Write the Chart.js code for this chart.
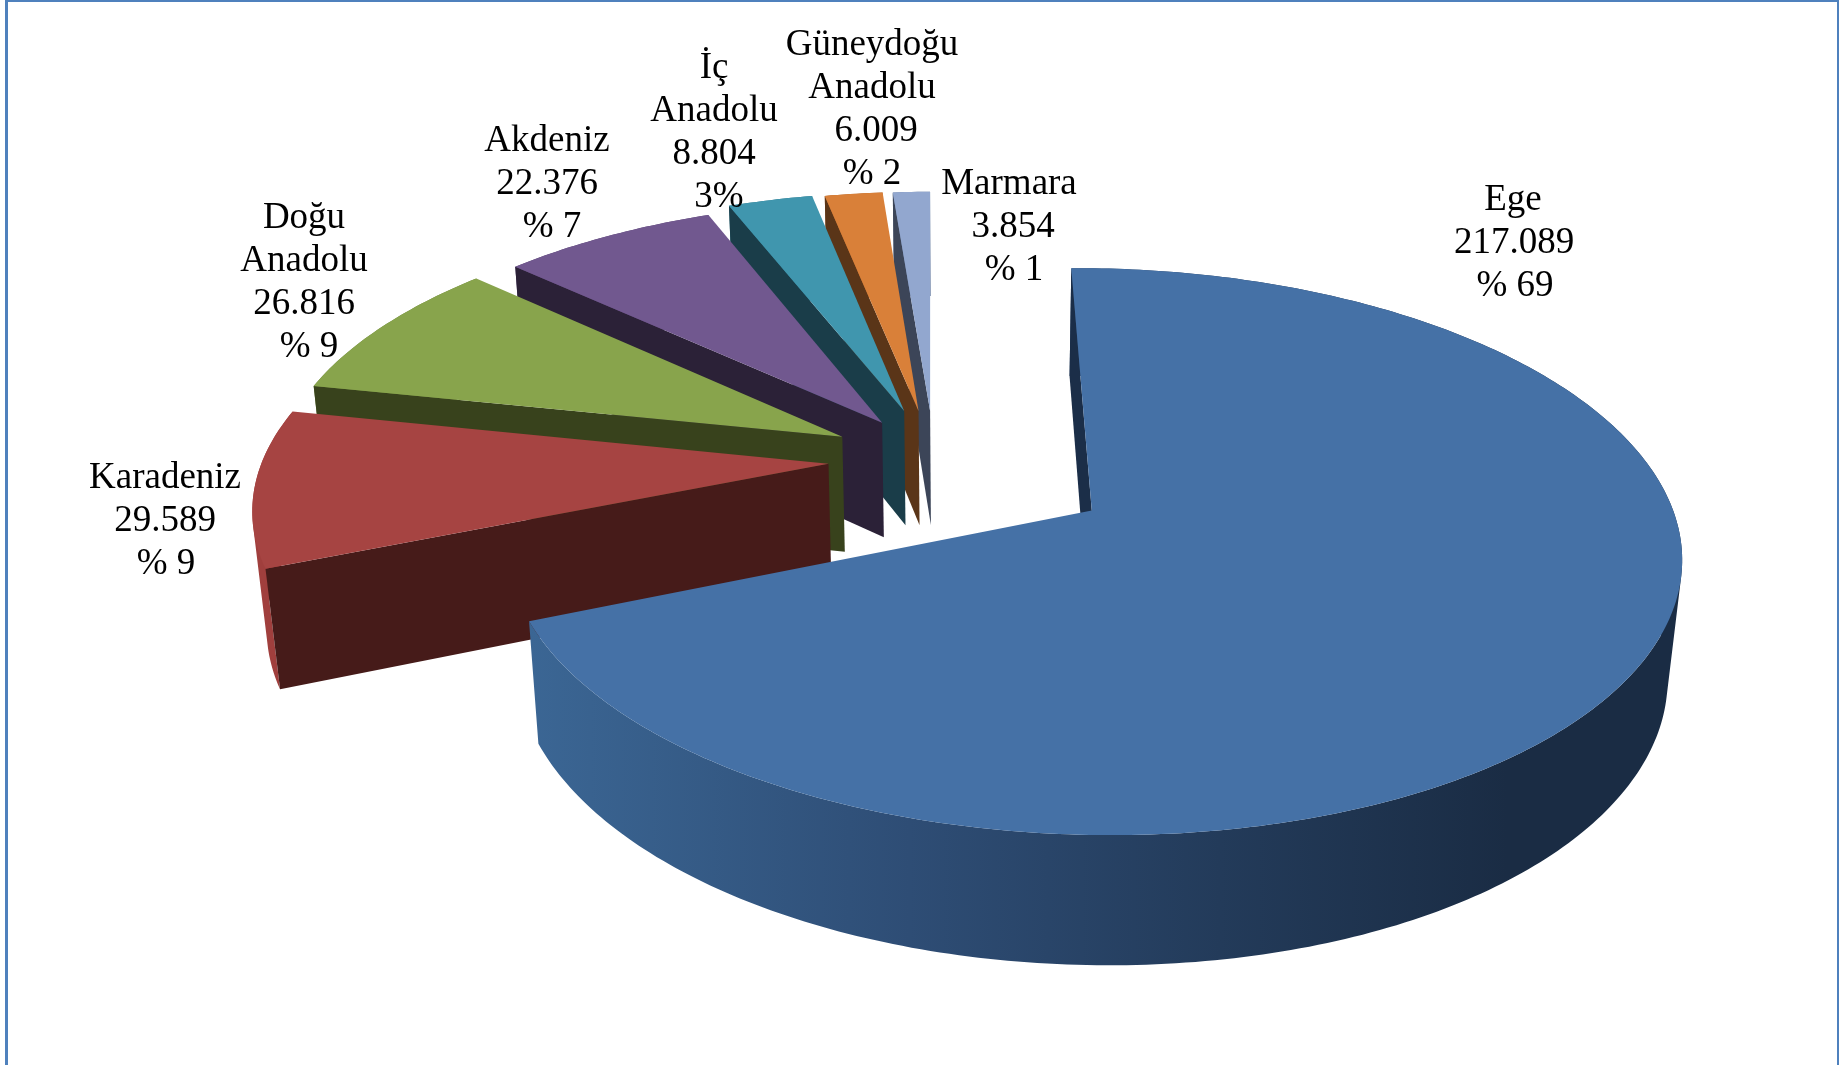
<!DOCTYPE html>
<html lang="tr">
<head>
<meta charset="utf-8">
<title>Bölgelere göre dağılım</title>
<style>
  html, body { margin: 0; padding: 0; background: #fff; overflow: hidden; }
  #frame { position: absolute; left: 5px; top: 0; width: 1829px; height: 1065px;
           border-left: 3px solid #4f81bd; border-right: 3px solid #4f81bd; border-top: 2px solid #4f81bd;
           box-sizing: content-box; pointer-events: none; }
  #grafik { position: absolute; left: 0; top: 0; }
</style>
<script src="https://cdn.jsdelivr.net/npm/chart.js@4"></script>
</head>
<body>
<canvas id="grafik" width="1839" height="1065"></canvas>
<div id="frame"></div>
<script>
const categories = ['Ege', 'Karadeniz', 'Doğu Anadolu', 'Akdeniz', 'İç Anadolu', 'Güneydoğu Anadolu', 'Marmara'];
const values = [217089, 29589, 26816, 22376, 8804, 6009, 3854];
const valueLabels = ['217.089', '29.589', '26.816', '22.376', '8.804', '6.009', '3.854'];
const percentLabels = ['% 69', '% 9', '% 9', '% 7', '3%', '% 2', '% 1'];

// colours
const topColors = ['#4571a6', '#a64442', '#88a44c', '#71588f', '#4096ae', '#d98039', '#92a7cf'];
const wallColors = ['#1b2e48', '#461b19', '#38421c', '#2b2137', '#1a3d49', '#5a3518', '#3c4558'];
const rimColors = ['#2f4d74', '#a03f3d', '#6d8340', '#5a4672', '#337a8c', '#ad6630', '#7486a6'];

// how far each slice is pulled out, in pie radii
const offsetU = [0.206, -0.253, -0.232, -0.162, -0.123, -0.097, -0.076];
const offsetV = [0.138, -0.035, -0.139, -0.194, -0.240, -0.240, -0.240];

// centre of the first text line of each label, and the line height
const labelX = [1513, 165, 304, 547, 714, 872, 1009];
const labelY = [200, 478, 218, 141, 68, 45, 184];
const valueShift = [1, 0, 0, 0, 0, 4, 4];
const percentShift = [2, 1, 5, 5, 5, 0, 5];
const lineHeight = 43;

// view settings for the tilted pie
const tilt = 0.468;
const perspective = 0.142;
const depth = 119;
const depthShrink = 0.02;

function project(el, u, v, h) {
    const w = 1 - perspective * v + depthShrink * h;
    return [
        el.x + el.outerRadius * u / w,
        el.y + (el.outerRadius * tilt * v + depth * h) / w
    ];
}

function arcPoints(el, i, h) {
    const pts = [];
    const steps = Math.max(6, Math.ceil((el.endAngle - el.startAngle) / 0.015));
    for (let s = 0; s <= steps; s++) {
        const a = el.startAngle + (el.endAngle - el.startAngle) * s / steps;
        pts.push(project(el, offsetU[i] + Math.cos(a), offsetV[i] + Math.sin(a), h));
    }
    return pts;
}

function fillPoly(ctx, pts, fill) {
    ctx.beginPath();
    pts.forEach((p, n) => n ? ctx.lineTo(p[0], p[1]) : ctx.moveTo(p[0], p[1]));
    ctx.closePath();
    ctx.fillStyle = fill;
    ctx.fill();
}

// the outer wall is made of small quads, all wound the same way so that
// the fold at the silhouette does not cancel out in the fill
function fillRim(ctx, top, bottom, fill) {
    ctx.beginPath();
    for (let s = 0; s < top.length - 1; s++) {
        let q = [top[s], top[s + 1], bottom[s + 1], bottom[s]];
        let area = 0;
        q.forEach((p, n) => {
            const r = q[(n + 1) % 4];
            area += p[0] * r[1] - r[0] * p[1];
        });
        if (area < 0) q = q.reverse();
        q.forEach((p, n) => n ? ctx.lineTo(p[0], p[1]) : ctx.moveTo(p[0], p[1]));
        ctx.closePath();
    }
    ctx.fillStyle = fill;
    ctx.fill();
}

function drawSlice(ctx, el, i) {
    const apexTop = project(el, offsetU[i], offsetV[i], 0);
    const apexBottom = project(el, offsetU[i], offsetV[i], 1);
    const top = arcPoints(el, i, 0);
    const bottom = arcPoints(el, i, 1);

    // outer wall
    let rim = rimColors[i];
    if (i === 0) {
        rim = ctx.createLinearGradient(530, 0, 1680, 0);
        rim.addColorStop(0, '#3b6694');
        rim.addColorStop(0.33, '#2e4d75');
        rim.addColorStop(0.6, '#233b5a');
        rim.addColorStop(0.85, '#1a2c44');
        rim.addColorStop(1, '#1a2c44');
    }
    fillRim(ctx, top, bottom, rim);

    // only the wall along the start edge faces the viewer
    fillPoly(ctx, [apexTop, top[0], bottom[0], apexBottom], wallColors[i]);

    // top face
    fillPoly(ctx, [apexTop].concat(top), topColors[i]);
}

const pie3d = {
    id: 'pie3d',
    beforeDatasetDraw(chart) {
        const ctx = chart.ctx;
        const arcs = chart.getDatasetMeta(0).data;
        // back slices first, the big front slice last
        for (let i = arcs.length - 1; i >= 1; i--) drawSlice(ctx, arcs[i], i);
        drawSlice(ctx, arcs[0], 0);
        return false;
    },
    afterDraw(chart) {
        const ctx = chart.ctx;
        ctx.save();
        ctx.font = '37px "Liberation Serif"';
        ctx.fillStyle = '#000';
        ctx.textAlign = 'center';
        ctx.textBaseline = 'middle';
        categories.forEach((name, i) => {
            const lines = name.split(' ');
            lines.forEach((t, n) => ctx.fillText(t, labelX[i], labelY[i] + n * lineHeight));
            const n = lines.length;
            ctx.fillText(valueLabels[i], labelX[i] + valueShift[i], labelY[i] + n * lineHeight);
            ctx.fillText(percentLabels[i], labelX[i] + percentShift[i], labelY[i] + (n + 1) * lineHeight);
        });
        ctx.restore();
    }
};

new Chart(document.getElementById('grafik'), {
    type: 'pie',
    data: {
        labels: categories,
        datasets: [{ data: values, backgroundColor: topColors, borderWidth: 0 }]
    },
    options: {
        responsive: false,
        animation: false,
        rotation: -0.6,
        radius: 570,
        layout: { padding: { left: 105, bottom: 119 } },
        plugins: { legend: { display: false }, tooltip: { enabled: false } }
    },
    plugins: [pie3d]
});
</script>
</body>
</html>
